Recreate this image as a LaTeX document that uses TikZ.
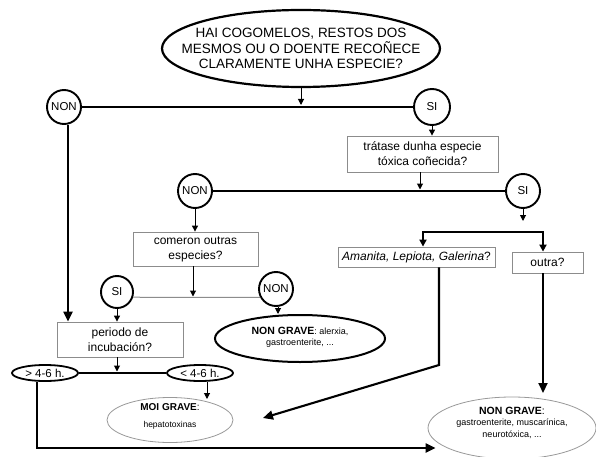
\documentclass[tikz,border=0pt]{standalone}
\usepackage{fontspec}
\setmainfont{Liberation Sans}
\usetikzlibrary{shapes.geometric,arrows.meta}
\begin{document}
\begin{tikzpicture}[x=1pt,y=-1pt,
  thickline/.style={line width=2.1pt},
  thinline/.style={line width=1pt},
  tarr/.style={thinline,-{Triangle[width=6pt,length=6pt]}},
  karr/.style={thickline,-{Triangle[width=9pt,length=10pt]}},
  boldell/.style={ellipse,draw,line width=2.2pt,inner sep=0pt},
  softell/.style={ellipse,draw=black!40,line width=0.8pt,inner sep=0pt},
  txt/.style={align=center,inner sep=0pt},
  circ/.style={circle,draw,line width=1.9pt,minimum size=34pt,inner sep=0pt,font=\fontsize{11.5}{12}\selectfont},
  qbox/.style={rectangle,draw=black!45,line width=0.8pt,inner sep=0pt,align=center,font=\fontsize{12}{15}\selectfont},
  smallell/.style={ellipse,draw,line width=1.8pt,inner sep=0pt,minimum width=66pt,minimum height=16pt,font=\fontsize{11.5}{12}\selectfont}
]
\useasboundingbox (0,0) rectangle (596,457);
\fill[white] (0,0) rectangle (596,457);

% top question
\node[boldell,minimum width=278pt,minimum height=77pt] (top) at (301,48.5) {};
\node[txt,font=\fontsize{13.5}{15.5}\selectfont] (toptxt) at (top) {HAI COGOMELOS, RESTOS DOS\\MESMOS OU O DOENTE RECOÑECE\\CLARAMENTE UNHA ESPECIE?};

\node[circ] (non1) at (64,107) {NON};
\node[circ,minimum size=36pt] (si1) at (432,107) {SI};
\draw[thickline] (non1) -- (si1);
\coordinate (j1) at (301,105);
\draw[tarr] (top) -- (j1);

% second question
\node[qbox,minimum width=151pt,minimum height=36pt] (box1) at (422.5,154) {trátase dunha especie\\tóxica coñecida?};
\draw[tarr] (si1) -- (si1 |- box1.north);

\node[circ] (non2) at (195,191) {NON};
\node[circ] (si2) at (523,191) {SI};
\draw[thickline] (non2) -- (si2);
\coordinate (j2) at (420,189.5);
\draw[tarr] (box1.south -| j2) -- (j2);

% comeron outras especies
\node[qbox,minimum width=125pt,minimum height=34pt] (box2) at (195.5,249) {comeron outras\\especies?};
\draw[tarr] (non2) -- (non2 |- box2.north);

\node[circ,minimum size=32pt] (si3) at (117,292) {SI};
\node[circ] (non3) at (276,289) {NON};
\draw[thinline,black!45] (si3.-18) -- (non3.208);
\coordinate (j3) at (193,296.5);
\draw[tarr] (box2.south -| j3) -- (j3);

% periodo de incubacion
\node[qbox,minimum width=126pt,minimum height=35pt] (box3) at (120,339.5) {periodo de\\incubación?};
\draw[tarr] (si3) -- (si3 |- box3.north);
\draw[karr] ([xshift=4pt]non1.south) -- ([xshift=4pt]non1.south |- box3.north);

\node[smallell] (gt) at (45,373) {> 4-6 h.};
\node[smallell] (lt) at (200,373) {< 4-6 h.};
\draw[thickline] (gt) -- (lt);
\coordinate (j4) at (117,371.5);
\draw[tarr] (box3.south -| j4) -- (j4);

% MOI GRAVE
\node[softell,minimum width=126pt,minimum height=45pt] (moi) at (170,420) {};
\node[txt] (moitxt) at (170,416.5) {{\fontsize{10}{12}\selectfont\bfseries MOI GRAVE}{\fontsize{10}{12}\selectfont:}\\[5pt]{\fontsize{8.5}{10}\selectfont hepatotoxinas}};
\coordinate (j5) at (207,399);
\draw[tarr] (lt.south -| j5) -- (j5);

% NON GRAVE (middle)
\node[boldell,line width=2pt,minimum width=170pt,minimum height=47pt] (ng1) at (300,338.5) {};
\node[txt] (ng1txt) at (300,337.5) {{\fontsize{10.5}{12}\selectfont\bfseries NON GRAVE}{\fontsize{9}{11}\selectfont: alerxia,}\\[-1pt]{\fontsize{9}{11}\selectfont gastroenterite, ...}};
\draw[tarr] ([xshift=2pt]non3.south) -- ([xshift=2pt]non3.south |- ng1.north);

% SI branch
\coordinate (j6) at (523,221);
\draw[tarr] (si2) -- (j6);
\node[qbox,minimum width=157pt,minimum height=20pt] (am) at (416.5,257) {\itshape Amanita, Lepiota, Galerina\upshape?};
\node[qbox,minimum width=71pt,minimum height=21pt] (out) at (547.5,262.5) {outra?};
\coordinate (sL) at (423,232);
\coordinate (sR) at (543,232);
\draw[line width=1.8pt,{Triangle[width=7pt,length=7pt]}-{Triangle[width=7pt,length=7pt]}] (sL |- am.north) -- (sL) -- (sR) -- (sR |- out.north);

\coordinate (amk) at (439,365);
\coordinate (amtip) at (263,418);
\draw[karr] (am.south -| amk) -- (amk) -- (amtip);

% NON GRAVE (bottom right)
\node[softell,minimum width=168pt,minimum height=62pt] (ng2) at (512,428) {};
\node[txt] (ng2txt) at (512,423) {{\fontsize{10.5}{12}\selectfont\bfseries NON GRAVE}{\fontsize{10.5}{12}\selectfont:}\\[-1pt]{\fontsize{9}{10.5}\selectfont gastroenterite, muscarínica,}\\{\fontsize{9}{10.5}\selectfont neurotóxica, ...}};
\coordinate (ok) at (543,393);
\draw[karr] (out.south -| ok) -- (ok);

\draw[karr] ([xshift=-8pt]gt.south) |- ([xshift=8pt,yshift=-20pt]ng2.west);
\end{tikzpicture}
\end{document}
